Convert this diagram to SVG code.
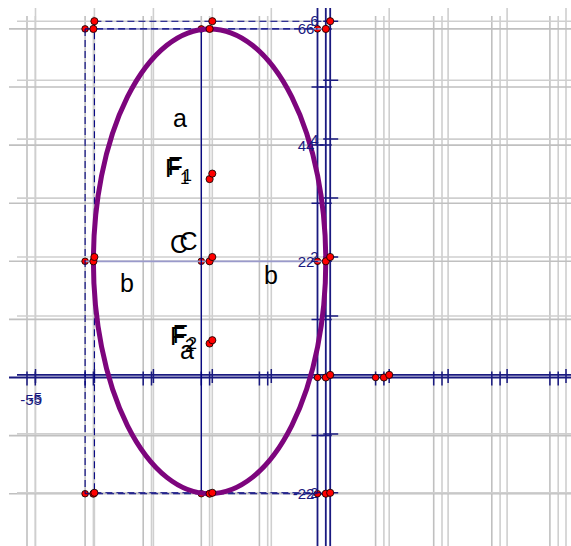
<svg xmlns="http://www.w3.org/2000/svg" width="571" height="546" viewBox="0 0 571 546">
<style>
.gA{stroke:#c0c0c0;stroke-width:1.6;fill:none}
.gB{stroke:#cfcfcf;stroke-width:1.6;fill:none}
.ax{stroke:#1a1a80;stroke-width:1.8;fill:none}
.tk{stroke:#1a1a80;stroke-width:1.5;fill:none}
.dash{stroke:#000080;stroke-width:1.1;stroke-dasharray:7,4;fill:none}
.lav{stroke:#9a9acb;stroke-width:1.8;fill:none}
.seg{stroke:#000080;stroke-width:1.3;fill:none}
.pt{fill:#ff0000;stroke:#000;stroke-width:0.8}
.al{font-family:"Liberation Sans",Arial,sans-serif;font-size:15px;fill:#1a1a80}
.lb{font-family:"Liberation Sans",Arial,sans-serif;font-size:25px;fill:#000}
.sb{font-family:"Liberation Sans",Arial,sans-serif;font-size:17px;fill:#000}
</style>
<rect width="571" height="546" fill="#fff"/>
<g id="grid">
<path class="gA" d="M27 16V546M85.1 16V546M143.2 16V546M201.3 16V546M259.4 16V546M375.6 16V546M433.7 16V546M491.8 16V546M549.9 16V546"/>
<path class="gB" d="M35.3 16V546M93.4 16V546M151.5 16V546M209.6 16V546M267.7 16V546M383.9 16V546M442 16V546M500.1 16V546M558.2 16V546"/>
<path class="gB" d="M35.5 8V546M94.4 8V546M153.4 8V546M212.3 8V546M271.3 8V546M389.2 8V546M448.1 8V546M507.1 8V546M566 8V546"/>
<path class="gA" d="M9 28.9H571M9 87H571M9 145.1H571M9 203.2H571M9 261.3H571M9 319.4H571M9 435.6H571M9 493.7H571"/>
<path class="gB" d="M17 21.2H571M17 80.2H571M17 139.1H571M17 198.1H571M17 257H571M17 316H571M17 433.9H571M17 492.8H571"/>
</g>
<g id="axes">
<path class="ax" d="M9 377.5H571M17 374.9H571M317.5 8V546M325.8 8V546M330.2 8V546"/>
<path class="tk" d="M27 371.5V385.5M85.1 371.5V385.5M143.2 371.5V385.5M201.3 371.5V385.5M259.4 371.5V385.5M375.6 371.5V385.5M433.7 371.5V385.5M491.8 371.5V385.5M549.9 371.5V385.5"/>
<path class="tk" d="M35.3 371.5V385.5M93.4 371.5V385.5M151.5 371.5V385.5M209.6 371.5V385.5M267.7 371.5V385.5M383.9 371.5V385.5M442 371.5V385.5M500.1 371.5V385.5M558.2 371.5V385.5"/>
<path class="tk" d="M35.5 368.9V382.9M94.4 368.9V382.9M153.4 368.9V382.9M212.3 368.9V382.9M271.3 368.9V382.9M389.2 368.9V382.9M448.1 368.9V382.9M507.1 368.9V382.9M566 368.9V382.9"/>
<path class="tk" d="M311.5 28.9H323.5M311.5 87H323.5M311.5 145.1H323.5M311.5 203.2H323.5M311.5 261.3H323.5M311.5 319.4H323.5M311.5 435.6H323.5M311.5 493.7H323.5"/>
<path class="tk" d="M319.8 28.9H331.8M319.8 87H331.8M319.8 145.1H331.8M319.8 203.2H331.8M319.8 261.3H331.8M319.8 319.4H331.8M319.8 435.6H331.8M319.8 493.7H331.8"/>
<path class="tk" d="M323.2 21.2H338.2M323.2 80.2H338.2M323.2 139.1H338.2M323.2 198.1H338.2M323.2 257H338.2M323.2 316H338.2M323.2 433.9H338.2M323.2 492.8H338.2"/>
</g>
<g id="points-base">
<circle class="pt" cx="85.1" cy="28.9" r="3.3"/><circle class="pt" cx="201.3" cy="28.9" r="3.3"/><circle class="pt" cx="317.5" cy="28.9" r="3.3"/>
<circle class="pt" cx="85.1" cy="261.3" r="3.3"/><circle class="pt" cx="201.3" cy="261.3" r="3.3"/><circle class="pt" cx="317.5" cy="261.3" r="3.3"/>
<circle class="pt" cx="85.1" cy="493.7" r="3.3"/><circle class="pt" cx="201.3" cy="493.7" r="3.3"/><circle class="pt" cx="317.5" cy="493.7" r="3.3"/>
<circle class="pt" cx="317.5" cy="377.5" r="3.3"/><circle class="pt" cx="375.6" cy="377.5" r="3.3"/>
</g>
<g id="connectors">
<path class="lav" d="M93.4 28.9H325.8M85.1 261.3H325.8"/>
<path class="dash" d="M85.1 28.9V493.7M85.1 28.9H317.5M85.1 493.7H317.5"/>
<path class="dash" d="M94.4 21.2V492.8M94.4 21.2H330.2M94.4 492.8H330.2"/>
<path class="seg" d="M201.3 28.9V493.7"/>
</g>
<g id="ellipse">
<ellipse cx="209.6" cy="261.3" rx="116.2" ry="232.4" fill="none" stroke="#7d057d" stroke-width="5"/>
</g>
<g id="points">
<circle class="pt" cx="93.4" cy="28.9" r="3.6"/><circle class="pt" cx="209.6" cy="28.9" r="3.6"/><circle class="pt" cx="325.8" cy="28.9" r="3.6"/>
<circle class="pt" cx="93.4" cy="261.3" r="3.6"/><circle class="pt" cx="209.6" cy="261.3" r="3.6"/><circle class="pt" cx="325.8" cy="261.3" r="3.6"/>
<circle class="pt" cx="93.4" cy="493.7" r="3.6"/><circle class="pt" cx="209.6" cy="493.7" r="3.6"/><circle class="pt" cx="325.8" cy="493.7" r="3.6"/>
<circle class="pt" cx="209.6" cy="179.1" r="3.6"/><circle class="pt" cx="209.6" cy="343.5" r="3.6"/>
<circle class="pt" cx="325.8" cy="377.5" r="3.6"/><circle class="pt" cx="383.9" cy="377.5" r="3.6"/>
<circle class="pt" cx="94.4" cy="21.2" r="3.6"/><circle class="pt" cx="212.3" cy="21.2" r="3.6"/><circle class="pt" cx="330.2" cy="21.2" r="3.6"/>
<circle class="pt" cx="94.4" cy="257" r="3.6"/><circle class="pt" cx="212.3" cy="257" r="3.6"/><circle class="pt" cx="330.2" cy="257" r="3.6"/>
<circle class="pt" cx="94.4" cy="492.8" r="3.6"/><circle class="pt" cx="212.3" cy="492.8" r="3.6"/><circle class="pt" cx="330.2" cy="492.8" r="3.6"/>
<circle class="pt" cx="212.3" cy="173.6" r="3.6"/><circle class="pt" cx="212.3" cy="340.2" r="3.6"/>
<circle class="pt" cx="330.2" cy="374.9" r="3.6"/><circle class="pt" cx="389.2" cy="374.9" r="3.6"/>
</g>
<g id="axis-labels">
<g text-anchor="end" class="al">
<text x="306" y="34">6</text><text x="306" y="150.5">4</text><text x="306" y="266.5">2</text><text x="306" y="499">-2</text>
<text x="314.3" y="34">6</text><text x="314.3" y="150.5">4</text><text x="314.3" y="266.5">2</text><text x="314.3" y="499">-2</text>
<text x="318.5" y="26">6</text><text x="318.5" y="144.5">4</text><text x="318.5" y="262">2</text><text x="318.5" y="498">-2</text>
</g>
<g text-anchor="middle" class="al">
<text x="27" y="404.5">-5</text><text x="35.3" y="404.5">-5</text><text x="35.5" y="402.5">-5</text>
</g>
</g>
<g id="labels">
<text class="lb" x="173" y="127">a</text>
<text class="lb" x="165" y="177">F</text><text class="lb" x="167.5" y="174.5">F</text>
<text class="sb" x="180" y="183.5">1</text><text class="sb" x="182.5" y="181">1</text>
<text class="lb" x="170" y="253.3" font-size="24">C</text><text class="lb" x="179.5" y="250.3" font-size="24">C</text>
<text class="lb" x="120" y="291.5">b</text>
<text class="lb" x="264" y="284" fill="#333">b</text>
<text class="lb" x="170" y="345">F</text><text class="lb" x="172.5" y="342.5">F</text>
<text class="sb" x="185" y="351">2</text><text class="sb" x="187.5" y="348.5">2</text>
<text class="lb" x="180" y="359">a</text>
</g>
</svg>
